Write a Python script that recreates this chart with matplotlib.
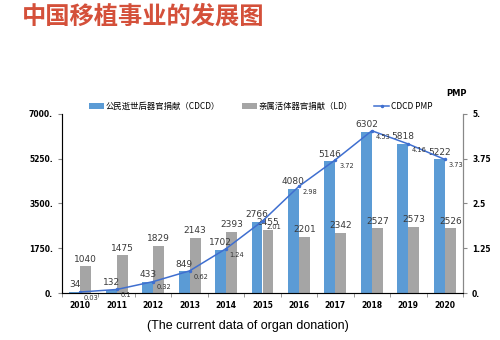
import numpy as np
import matplotlib.pyplot as plt
from matplotlib.ticker import FixedLocator, NullFormatter

plt.rcParams['font.family'] = ['Noto Sans CJK SC', 'DejaVu Sans']

years = ['2010', '2011', '2012', '2013', '2014', '2015',
         '2016', '2017', '2018', '2019', '2020']
cdcd = [34, 132, 433, 849, 1702, 2766, 4080, 5146, 6302, 5818, 5222]
ld = [1040, 1475, 1829, 2143, 2393, 2455, 2201, 2342, 2527, 2573, 2526]
pmp = [0.03, 0.1, 0.32, 0.62, 1.24, 2.01, 2.98, 3.72, 4.53, 4.16, 3.73]

left_ticks = [0, 1750, 3500, 5250, 7000]
left_labels = ['0.', '1750.', '3500.', '5250.', '7000.']
right_ticks = [0, 1.25, 2.5, 3.75, 5]
right_labels = ['0.', '1.25', '2.5', '3.75', '5.']

blue = '#5B9BD5'
gray = '#A5A5A5'
line_c = '#3F6FD0'

fig = plt.figure(figsize=(5, 3.4), dpi=100)
ax = fig.add_axes([0.124, 0.138, 0.802, 0.527])
x = np.arange(len(years))
w = 0.3

b1 = ax.bar(x - w / 2, cdcd, w, color=blue, label='公民逝世后器官捐献（CDCD）')
b2 = ax.bar(x + w / 2, ld, w, color=gray, label='亲属活体器官捐献（LD）')
ax.set_xlim(-0.5, len(years) - 0.5)
ax.set_ylim(0, 7000)
ax.set_yticks(left_ticks)
ax.set_yticklabels(left_labels, fontsize=5.5, fontweight='bold', family='DejaVu Sans')
ax.set_xticks(x)
ax.set_xticklabels(years, fontsize=5.5, fontweight='bold', family='DejaVu Sans')
ax.tick_params(axis='x', length=0, pad=6)
ax.tick_params(axis='y', length=3, color='#888888', width=0.8)
ax.xaxis.set_minor_locator(FixedLocator(np.arange(-0.5, len(years), 1)))
ax.xaxis.set_minor_formatter(NullFormatter())
ax.tick_params(axis='x', which='minor', length=3, color='#888888')
ax.spines['top'].set_visible(False)
for s in ['left', 'right', 'bottom']:
    ax.spines[s].set_color('#888888')

for i in range(len(years)):
    ax.text(x[i] - w / 2, cdcd[i] + 110, str(cdcd[i]), ha='center', va='bottom',
            fontsize=6.5, color='#3a3a3a', family='DejaVu Sans')
    ax.text(x[i] + w / 2, ld[i] + 110, str(ld[i]), ha='center', va='bottom',
            fontsize=6.5, color='#3a3a3a', family='DejaVu Sans')

ax2 = ax.twinx()
l1, = ax2.plot(x, pmp, color=line_c, lw=1.1, marker='o', ms=1.5, label='CDCD PMP')
ax2.set_ylim(0, 5)
ax2.set_yticks(right_ticks)
ax2.set_yticklabels(right_labels, fontsize=5.5, fontweight='bold', family='DejaVu Sans')
ax2.tick_params(axis='y', length=3, color='#888888', width=0.8)
ax2.spines['top'].set_visible(False)
ax2.spines['right'].set_color('#888888')
for i in range(len(years)):
    ax2.text(x[i] + 0.1, pmp[i] - 0.08, str(pmp[i]), ha='left', va='top',
             fontsize=4.8, color='#333333', family='DejaVu Sans')

ax.legend(handles=[b1, b2, l1], ncol=3, loc='lower left',
          bbox_to_anchor=(0.055, 0.99), frameon=False, fontsize=6,
          handlelength=1.8, handleheight=0.7, handletextpad=0.2,
          columnspacing=2.6, borderaxespad=0.2)

fig.text(0.892, 0.718, 'PMP', fontsize=6, fontweight='bold', family='DejaVu Sans')
fig.text(0.044, 0.95, '中国移植事业的发展图', fontsize=17.5, fontweight='bold',
         color='#D4503A', va='center', ha='left')
fig.text(0.496, 0.04, '(The current data of organ donation)', fontsize=9,
         family='Liberation Sans', ha='center', va='center')

fig.savefig('out.png', dpi=100)
